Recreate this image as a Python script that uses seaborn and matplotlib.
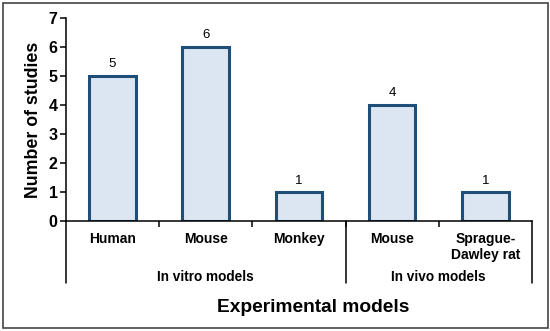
import pandas as pd
import matplotlib.pyplot as plt
import matplotlib.transforms as mtransforms
from matplotlib.patches import Rectangle
import seaborn as sns

# Data
groups = ["In vitro models", "In vitro models", "In vitro models",
          "In vivo models", "In vivo models"]
models = ["Human", "Mouse", "Monkey", "Mouse", "Sprague-\nDawley rat"]
studies = [5, 6, 1, 4, 1]
group_names = ["In vitro models", "In vivo models"]

df = pd.DataFrame({"group": groups, "model": models, "studies": studies})
df["key"] = df["group"] + "|" + df["model"]

sns.set_style("white")
plt.rcParams["font.family"] = ["Liberation Sans", "DejaVu Sans"]
plt.rcParams["text.color"] = "black"
plt.rcParams["axes.labelcolor"] = "black"
plt.rcParams["xtick.color"] = "black"
plt.rcParams["ytick.color"] = "black"

fig = plt.figure(figsize=(5.5, 3.31), dpi=100)
ax = fig.add_axes([0.12, 0.332, 0.847, 0.614])

sns.barplot(data=df, x="key", y="studies", order=list(df["key"]),
            color="#dce6f2", edgecolor="#1f4e79", linewidth=2.2,
            width=0.5, saturation=1, ax=ax)

for c in ax.containers:
    ax.bar_label(c, padding=4, fontsize=9.5, color="black")

ax.set_ylim(0, 7)
ax.set_xlim(-0.5, len(models) - 0.5)
ax.set_yticks(range(0, 8))
ax.tick_params(axis="y", labelsize=11.5, length=4, width=1.1, direction="out",
               left=True, pad=2)
for t in ax.get_yticklabels():
    t.set_fontweight("bold")

# category labels
ax.set_xticks(range(len(models)))
ax.set_xticklabels(models, fontsize=10, fontweight="bold", va="top")
ax.tick_params(axis="x", length=0, pad=8)
# small ticks between categories
ax.set_xticks([i + 0.5 for i in range(len(models) - 1)], minor=True)
ax.tick_params(axis="x", which="minor", length=4, width=1.1, direction="out",
               bottom=True)

ax.set_xlabel("")
ax.set_ylabel("Number of studies", fontsize=12.8, fontweight="bold", labelpad=5)

for side in ["top", "right"]:
    ax.spines[side].set_visible(False)
for side in ["left", "bottom"]:
    ax.spines[side].set_linewidth(1.1)
    ax.spines[side].set_color("black")

# group separators and group labels
trans = mtransforms.blended_transform_factory(ax.transData, ax.transAxes)
for xpos in [-0.5, 2.5, 4.5]:
    ax.plot([xpos, xpos], [0, -0.305], color="black", lw=1.1,
            transform=trans, clip_on=False)
ax.text(1, -0.275, group_names[0], transform=trans, ha="center", va="center",
        fontsize=9.8, fontweight="bold")
ax.text(3.5, -0.275, group_names[1], transform=trans, ha="center", va="center",
        fontsize=9.8, fontweight="bold")

fig.text(0.569, 1 - 308 / 331, "Experimental models", ha="center",
         va="center", fontsize=13.8, fontweight="bold")

# outer border
fig.patches.append(Rectangle((3 / 550, 3 / 331), 545 / 550, 325 / 331,
                             transform=fig.transFigure, fill=False,
                             edgecolor="#444444", linewidth=1.2))

plt.savefig("out.png", dpi=100)
